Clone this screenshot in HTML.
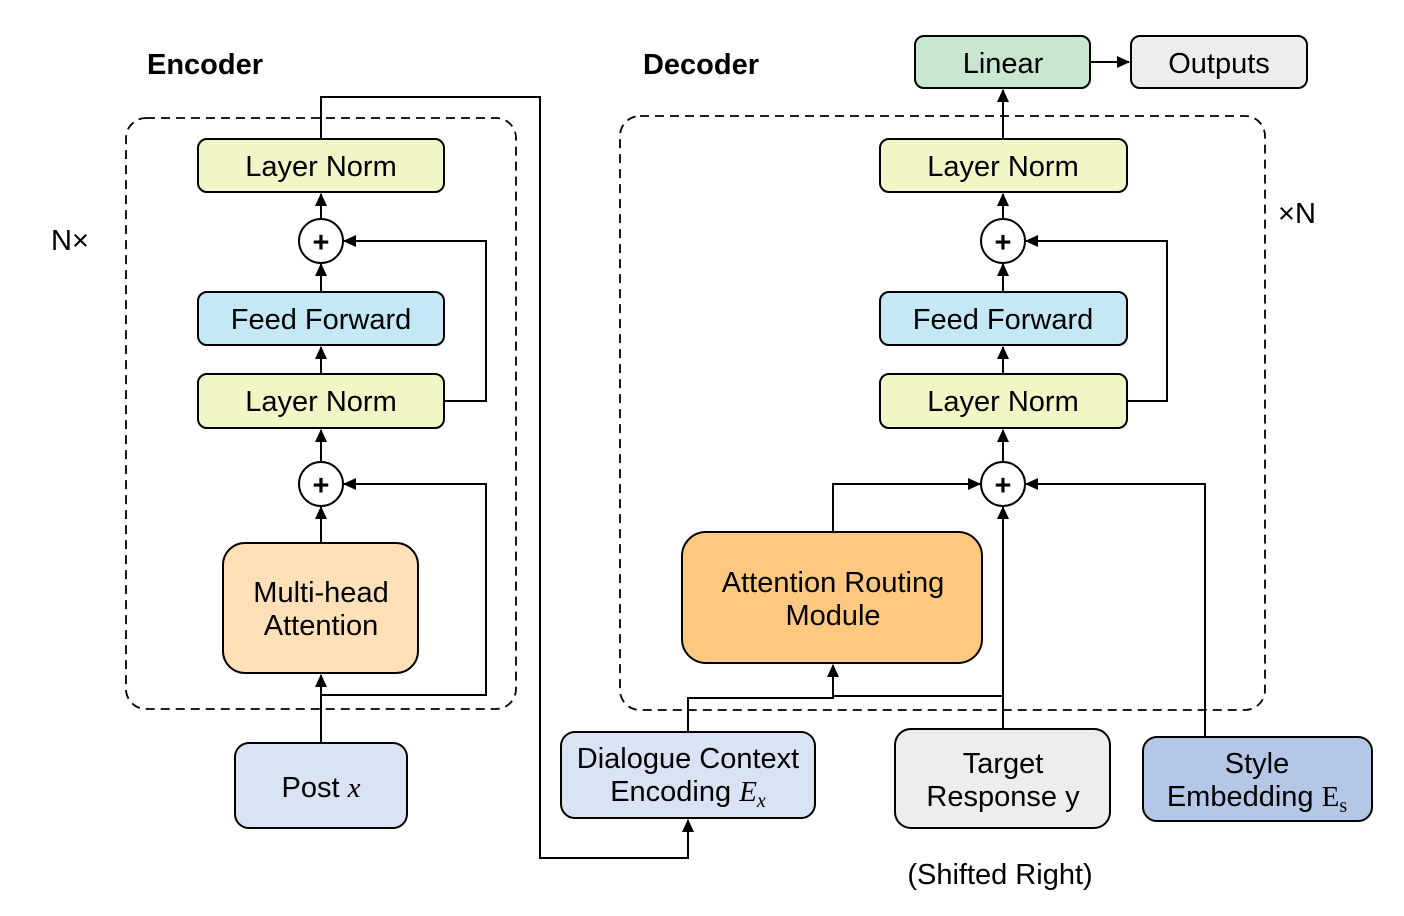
<!DOCTYPE html>
<html><head><meta charset="utf-8"><style>
html,body{margin:0;padding:0;background:#fff;}
svg{display:block;}
text{font-family:"Liberation Sans",sans-serif;font-size:29px;fill:#000;text-anchor:middle;}
.b{stroke:#000;stroke-width:2;}
.l{stroke:#000;stroke-width:2;fill:none;}
.d{stroke:#000;stroke-width:1.8;fill:none;stroke-dasharray:9,6;}
</style></head><body>
<svg width="1404" height="916" viewBox="0 0 1404 916">
<defs>
<marker id="a" markerWidth="13" markerHeight="12" refX="12" refY="6" orient="auto" markerUnits="userSpaceOnUse">
<path d="M0,0 L13,6 L0,12 z" fill="#000"/></marker>
</defs>
<text x="205" y="74" style="font-weight:bold" font-size="28">Encoder</text>
<text x="701" y="74" style="font-weight:bold" font-size="28">Decoder</text>
<text x="70" y="250" font-size="27">N×</text>
<text x="1297" y="223" font-size="27">×N</text>
<text x="1000" y="884" font-size="27">(Shifted Right)</text>

<rect x="126" y="118" width="390" height="591" rx="20" class="d"/>
<rect x="620" y="116" width="645" height="594" rx="20" class="d"/>

<path class="l" d="M321,139 V97 H540 V858 H688 V820" marker-end="url(#a)"/>
<path class="l" d="M321,743 V675" marker-end="url(#a)"/>
<path class="l" d="M321,695 H486 V484 H344" marker-end="url(#a)"/>
<path class="l" d="M321,543 V507" marker-end="url(#a)"/>
<path class="l" d="M321,462 V430" marker-end="url(#a)"/>
<path class="l" d="M321,374 V347" marker-end="url(#a)"/>
<path class="l" d="M321,292 V264" marker-end="url(#a)"/>
<path class="l" d="M321,219 V194" marker-end="url(#a)"/>
<path class="l" d="M444,401 H486 V241 H344" marker-end="url(#a)"/>

<path class="l" d="M1003,139 V90" marker-end="url(#a)"/>
<path class="l" d="M1090,62 H1129" marker-end="url(#a)"/>
<path class="l" d="M1003,219 V194" marker-end="url(#a)"/>
<path class="l" d="M1003,292 V264" marker-end="url(#a)"/>
<path class="l" d="M1003,374 V347" marker-end="url(#a)"/>
<path class="l" d="M1003,462 V430" marker-end="url(#a)"/>
<path class="l" d="M1127,401 H1167 V241 H1026" marker-end="url(#a)"/>
<path class="l" d="M833,532 V484 H980" marker-end="url(#a)"/>
<path class="l" d="M1205,737 V484 H1026" marker-end="url(#a)"/>
<path class="l" d="M1003,729 V507" marker-end="url(#a)"/>
<path class="l" d="M688,732 V698 H833 V665" marker-end="url(#a)"/>
<path class="l" d="M833,696 H1003"/>

<rect x="198" y="139" width="246" height="53" rx="9" fill="#F2F5C6" class="b"/>
<text x="321" y="176">Layer Norm</text>
<circle cx="321" cy="241" r="22" fill="#fff" class="b"/>
<text x="321" y="252" font-size="32" style="font-weight:bold">+</text>
<rect x="198" y="292" width="246" height="53" rx="9" fill="#C5E8F7" class="b"/>
<text x="321" y="329">Feed Forward</text>
<rect x="198" y="374" width="246" height="54" rx="9" fill="#F2F5C6" class="b"/>
<text x="321" y="411">Layer Norm</text>
<circle cx="321" cy="484" r="22" fill="#fff" class="b"/>
<text x="321" y="495" font-size="32" style="font-weight:bold">+</text>
<rect x="223" y="543" width="195" height="130" rx="22" fill="#FFE0B8" class="b"/>
<text x="321" y="602">Multi-head</text>
<text x="321" y="635">Attention</text>
<rect x="235" y="743" width="172" height="85" rx="14" fill="#DAE3F3" class="b"/>
<text x="321" y="797">Post <tspan font-family="Liberation Serif" font-style="italic">x</tspan></text>

<rect x="915" y="36" width="175" height="52" rx="9" fill="#C9E6D1" class="b"/>
<text x="1003" y="73">Linear</text>
<rect x="1131" y="36" width="176" height="52" rx="9" fill="#EDEDED" class="b"/>
<text x="1219" y="73">Outputs</text>
<rect x="880" y="139" width="247" height="53" rx="9" fill="#F2F5C6" class="b"/>
<text x="1003" y="176">Layer Norm</text>
<circle cx="1003" cy="241" r="22" fill="#fff" class="b"/>
<text x="1003" y="252" font-size="32" style="font-weight:bold">+</text>
<rect x="880" y="292" width="247" height="53" rx="9" fill="#C5E8F7" class="b"/>
<text x="1003" y="329">Feed Forward</text>
<rect x="880" y="374" width="247" height="54" rx="9" fill="#F2F5C6" class="b"/>
<text x="1003" y="411">Layer Norm</text>
<circle cx="1003" cy="484" r="22" fill="#fff" class="b"/>
<text x="1003" y="495" font-size="32" style="font-weight:bold">+</text>
<rect x="682" y="532" width="300" height="131" rx="24" fill="#FFC880" class="b"/>
<text x="833" y="592">Attention Routing</text>
<text x="833" y="625">Module</text>
<rect x="561" y="732" width="254" height="86" rx="14" fill="#DAE3F3" class="b"/>
<text x="688" y="768">Dialogue Context</text>
<text x="688" y="801">Encoding <tspan font-family="Liberation Serif" font-style="italic">E</tspan><tspan font-family="Liberation Serif" font-style="italic" font-size="20" dy="6">x</tspan></text>
<rect x="895" y="729" width="215" height="99" rx="16" fill="#EDEDED" class="b"/>
<text x="1003" y="773">Target</text>
<text x="1003" y="806">Response y</text>
<rect x="1143" y="737" width="229" height="84" rx="14" fill="#B4C7E7" class="b"/>
<text x="1257" y="773">Style</text>
<text x="1257" y="806">Embedding <tspan font-family="Liberation Serif">E</tspan><tspan font-family="Liberation Serif" font-size="20" dy="6">s</tspan></text>
</svg>
</body></html>
